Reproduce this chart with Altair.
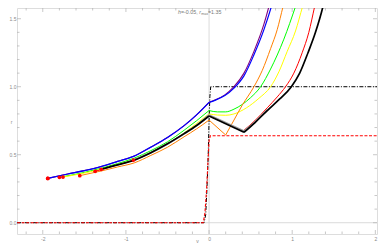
import altair as alt
import pandas as pd

# ---------------- data ----------------
X_DOMAIN = [-2.31, 2.02]
Y_DOMAIN = [-0.083, 1.579]
X_MAJOR = [-2, -1, 0, 1, 2]
Y_MAJOR = [0.0, 0.5, 1.0, 1.5]
X_MINOR = [v / 10 for v in range(-22, 21, 2) if v % 10 != 0]
Y_MINOR = [v / 10 for v in range(1, 16) if v % 5 != 0]

# curves: v values, r values, indices where the curve has a kink
PURPLE_V = [-1.94, -1.7, -1.5, -1.3, -1.1, -0.9, -0.7, -0.5, -0.3, -0.15, 0.0, 0.07, 0.19, 0.3, 0.42, 0.54, 0.66, 0.72, 0.79]
PURPLE_R = [0.326, 0.358, 0.383, 0.413, 0.451, 0.49, 0.556, 0.627, 0.714, 0.793, 0.885, 0.902, 0.94, 1.0, 1.1, 1.26, 1.46, 1.59, 1.76]
PURPLE_K = [10]

BLUE_V = [-1.94, -1.7, -1.5, -1.3, -1.1, -0.9, -0.7, -0.5, -0.3, -0.15, 0.0, 0.07, 0.19, 0.3, 0.42, 0.54, 0.66, 0.75, 0.82]
BLUE_R = [0.326, 0.358, 0.383, 0.413, 0.451, 0.49, 0.556, 0.627, 0.714, 0.793, 0.885, 0.9, 0.935, 0.99, 1.08, 1.235, 1.42, 1.59, 1.74]
BLUE_K = [10]

GREEN_V = [-1.8, -1.5, -1.3, -1.1, -0.9, -0.7, -0.5, -0.3, -0.15, 0.0, 0.1, 0.2, 0.3, 0.4, 0.5, 0.62, 0.74, 0.9, 1.04, 1.1]
GREEN_R = [0.334, 0.37, 0.40, 0.435, 0.475, 0.53, 0.595, 0.68, 0.75, 0.825, 0.815, 0.815, 0.835, 0.87, 0.92, 1.0, 1.13, 1.35, 1.59, 1.7]
GREEN_K = [9]

YELLOW_V = [-1.757, -1.5, -1.3, -1.1, -0.9, -0.7, -0.5, -0.3, -0.15, 0.0, 0.1, 0.2, 0.3, 0.45, 0.6, 0.74, 0.84, 0.94, 1.04, 1.125, 1.18]
YELLOW_R = [0.336, 0.365, 0.393, 0.427, 0.463, 0.517, 0.58, 0.66, 0.73, 0.80, 0.792, 0.79, 0.8, 0.845, 0.915, 1.0, 1.11, 1.26, 1.41, 1.59, 1.7]
YELLOW_K = [9]

ORANGE_V = [-1.555, -1.3, -1.1, -0.9, -0.7, -0.5, -0.3, -0.15, 0.0, 0.2, 0.3, 0.4, 0.54, 0.64, 0.74, 0.82, 0.89, 0.95]
ORANGE_R = [0.346, 0.38, 0.41, 0.44, 0.495, 0.555, 0.632, 0.69, 0.755, 0.645, 0.755, 0.865, 1.0, 1.12, 1.28, 1.42, 1.59, 1.73]
ORANGE_K = [8, 9]

RED_V = [-1.37, -1.1, -0.9, -0.7, -0.5, -0.3, -0.15, 0.0, 0.41, 0.55, 0.7, 0.82, 0.92, 1.02, 1.12, 1.2, 1.27, 1.31]
RED_R = [0.378, 0.425, 0.46, 0.515, 0.58, 0.655, 0.715, 0.785, 0.675, 0.75, 0.845, 0.925, 1.0, 1.1, 1.25, 1.4, 1.59, 1.7]
RED_K = [7, 8]

GRAY_V = [-0.91, -0.7, -0.5, -0.3, -0.15, 0.0, 0.42, 0.55, 0.7]
GRAY_R = [0.461, 0.515, 0.58, 0.655, 0.715, 0.792, 0.674, 0.74, 0.83]
GRAY_K = [5, 6]

BLACK_V = [-1.297, -1.1, -0.9, -0.7, -0.5, -0.3, -0.15, 0.0, 0.42, 0.55, 0.7, 0.85, 0.99, 1.09, 1.19, 1.28, 1.37, 1.41]
BLACK_R = [0.393, 0.425, 0.46, 0.515, 0.58, 0.655, 0.715, 0.785, 0.665, 0.735, 0.825, 0.91, 1.0, 1.1, 1.25, 1.4, 1.59, 1.7]
BLACK_K = [7, 8]

# step profiles
STEP_BLACK_V = [-2.31, -0.06, -0.04, -0.025, -0.01, 0.0, 0.01, 0.02, 2.02]
STEP_BLACK_R = [0.0, 0.0, 0.06, 0.25, 0.5, 0.75, 0.93, 1.0, 1.0]
STEP_RED_V = [-2.31, -0.07, -0.05, -0.03, -0.012, 0.0, 0.015, 2.02]
STEP_RED_R = [0.0, 0.0, 0.07, 0.24, 0.46, 0.6, 0.64, 0.64]

TITLE_PARTS = ["h", "=-0.05, ", "r", "max", "=1.35"]

# ---------------- chart ----------------
W, H = 360, 226
FONT = "Liberation Sans"
GREY_TXT = "#8a8a8a"

xs = alt.Scale(domain=X_DOMAIN, nice=False, zero=False)
ys = alt.Scale(domain=Y_DOMAIN, nice=False, zero=False)

X_AX = alt.Axis(values=X_MAJOR, ticks=False, tickSize=0, domain=False, grid=False,
                labelFontSize=5, labelColor=GREY_TXT, labelFont=FONT, labelPadding=2,
                labelExpr="replace(datum.label, '\u2212', '-')",
                title="v", titleFontSize=5, titleFont=FONT, titleColor=GREY_TXT,
                titleFontWeight="normal", titleY=6.8, titleBaseline="middle")
Y_AX = alt.Axis(values=Y_MAJOR, ticks=False, tickSize=0, domain=False, grid=False, format=".1f",
                labelFontSize=5, labelColor=GREY_TXT, labelFont=FONT, labelPadding=1,
                title="r", titleFontSize=5, titleFont=FONT, titleColor=GREY_TXT,
                titleFontWeight="normal", titleAngle=0, titleX=-6, titleY=H / 2,
                titleAlign="center", titleBaseline="middle")


def seg_df(vs, rs, kinks):
    bounds = [0] + kinks + [len(vs) - 1]
    rows = []
    for s in range(len(bounds) - 1):
        for i in range(bounds[s], bounds[s + 1] + 1):
            rows.append({"v": vs[i], "r": rs[i], "seg": s, "o": i})
    return pd.DataFrame(rows)


def line(df, color, width, dash=None, interp="monotone"):
    kw = dict(color=color, strokeWidth=width, clip=True, interpolate=interp)
    if dash:
        kw["strokeDash"] = dash
    return alt.Chart(df).mark_line(**kw).encode(
        x=alt.X("v:Q", scale=xs, axis=X_AX),
        y=alt.Y("r:Q", scale=ys, axis=Y_AX),
        detail="seg:N",
        order="o:Q",
    )


zero_v = alt.Chart(pd.DataFrame({"v": [0]})).mark_rule(color="#d0d0d0", strokeWidth=0.8).encode(
    x=alt.X("v:Q", scale=xs, axis=X_AX))
zero_r = alt.Chart(pd.DataFrame({"r": [0]})).mark_rule(color="#d0d0d0", strokeWidth=0.8).encode(
    y=alt.Y("r:Q", scale=ys, axis=Y_AX))


def xticks(vals, length):
    df = pd.DataFrame({"v": vals})
    b = alt.Chart(df).mark_rule(color="#b0b0b0", strokeWidth=0.7)
    return (b.encode(x=alt.X("v:Q", scale=xs, axis=X_AX), y=alt.value(H), y2=alt.value(H - length))
            + b.encode(x=alt.X("v:Q", scale=xs, axis=X_AX), y=alt.value(0), y2=alt.value(length)))


def yticks(vals, length):
    df = pd.DataFrame({"r": vals})
    b = alt.Chart(df).mark_rule(color="#b0b0b0", strokeWidth=0.7)
    return (b.encode(y=alt.Y("r:Q", scale=ys, axis=Y_AX), x=alt.value(0), x2=alt.value(length))
            + b.encode(y=alt.Y("r:Q", scale=ys, axis=Y_AX), x=alt.value(W), x2=alt.value(W - length)))


curves = [
    (PURPLE_V, PURPLE_R, PURPLE_K, "#800080", 1.1),
    (BLUE_V, BLUE_R, BLUE_K, "#0000ff", 1.2),
    (GREEN_V, GREEN_R, GREEN_K, "#00ff00", 1.0),
    (YELLOW_V, YELLOW_R, YELLOW_K, "#ffff00", 1.0),
    (ORANGE_V, ORANGE_R, ORANGE_K, "#ff8000", 1.0),
    (RED_V, RED_R, RED_K, "#ff0000", 1.0),
    (GRAY_V, GRAY_R, GRAY_K, "#9a9a9a", 1.8),
    (BLACK_V, BLACK_R, BLACK_K, "#000000", 1.7),
]

layers = [zero_v, zero_r,
          xticks(X_MAJOR, 4), xticks(X_MINOR, 2.5), yticks(Y_MAJOR, 4), yticks(Y_MINOR, 2.5)]

layers.append(line(seg_df(STEP_BLACK_V, STEP_BLACK_R, []), "#000000", 1.0, dash=[4, 1.5, 1, 1.5], interp="linear"))
layers.append(line(seg_df(STEP_RED_V, STEP_RED_R, []), "#ff0000", 1.1, dash=[3, 1.6], interp="linear"))

for vs, rs, ks, col, w in curves:
    layers.append(line(seg_df(vs, rs, ks), col, w))

starts = pd.DataFrame({"v": [c[0][0] for c in curves], "r": [c[1][0] for c in curves]})
layers.append(alt.Chart(starts).mark_point(filled=True, color="#ff0000", size=14, opacity=1).encode(
    x=alt.X("v:Q", scale=xs, axis=X_AX), y=alt.Y("r:Q", scale=ys, axis=Y_AX)))

# title pieces (italic h, r and subscript max)
title_specs = [
    (TITLE_PARTS[0], 161.0, 6.0, 5.3, "italic"),
    (TITLE_PARTS[1], 164.0, 6.0, 5.3, "normal"),
    (TITLE_PARTS[2], 182.2, 6.0, 5.3, "italic"),
    (TITLE_PARTS[3], 184.2, 7.2, 3.6, "normal"),
    (TITLE_PARTS[4], 191.0, 6.0, 5.3, "normal"),
]
for txt, tx, ty, fs, style in title_specs:
    layers.append(alt.Chart(pd.DataFrame({"t": [txt]})).mark_text(
        align="left", baseline="alphabetic", fontSize=fs, font=FONT, fontStyle=style, color="#777777"
    ).encode(text="t:N", x=alt.value(tx), y=alt.value(ty)))

chart = alt.layer(*layers).properties(
    width=W, height=H,
    autosize=alt.AutoSizeParams(type="none"),
    padding={"left": 9, "top": 0, "right": 1, "bottom": 10},
).configure_view(stroke="#b4b4b4", strokeWidth=0.8).configure(background="white")

chart.save("out.html", embed_options={"renderer": "svg", "actions": False})
